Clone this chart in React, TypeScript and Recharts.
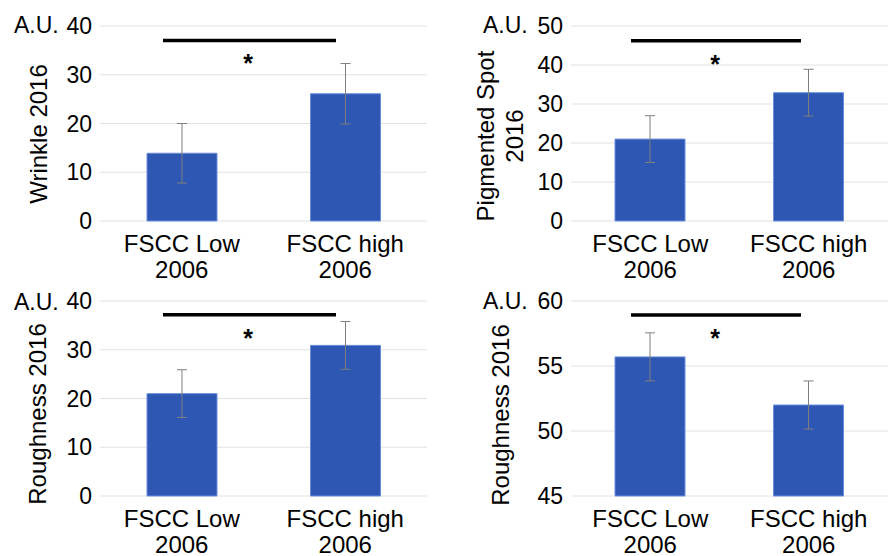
import React from 'react';
import { BarChart, Bar, XAxis, YAxis, CartesianGrid, ErrorBar } from 'recharts';

// two groups, label split into two lines at the last space
const categories = ['FSCC Low 2006', 'FSCC high 2006'];

const wrinkleMean = [13.9, 26.1];
const wrinkleErr = [6.1, 6.2];
const wrinkleTicks = [0, 10, 20, 30, 40];

const pigmentMean = [21.0, 32.9];
const pigmentErr = [6.0, 6.0];
const pigmentTicks = [0, 10, 20, 30, 40, 50];

const roughnessMean = [21.0, 30.9];
const roughnessErr = [4.9, 4.9];
const roughnessTicks = [0, 10, 20, 30, 40];

const roughness2Mean = [55.7, 52.0];
const roughness2Err = [1.85, 1.85];
const roughness2Ticks = [45, 50, 55, 60];

const FONT = '"Liberation Sans", Arial, Helvetica, sans-serif';
const BLUE = '#2E57B4';
const BLUE_EDGE = '#6B8FDD';
const GRID = '#E2E2E2';

function buildRows(means: number[], errs: number[]) {
  return categories.map((name, i) => ({ name, mean: means[i], err: errs[i] }));
}

function CategoryTick({ x, y, payload }: any) {
  const text: string = String(payload.value);
  const cut = text.lastIndexOf(' ');
  return (
    <text x={x} y={y} textAnchor="middle" fontSize={24} fill="#000" fontFamily={FONT}>
      <tspan x={x} dy={31}>{text.slice(0, cut)}</tspan>
      <tspan x={x} dy={25.5}>{text.slice(cut + 1)}</tspan>
    </text>
  );
}

interface PanelProps {
  left: number;
  top: number;
  rows: { name: string; mean: number; err: number }[];
  ticks: number[];
  yWidth: number;
  marginTop: number;
  marginRight: number;
  plotHeight: number;
}

// chart is drawn a bit taller than its 278px cell so the second tick line isn't clipped
function Panel({ left, top, rows, ticks, yWidth, marginTop, marginRight, plotHeight }: PanelProps) {
  const height = 300;
  return (
    <div style={{ position: 'absolute', left, top }}>
      <BarChart
        width={444}
        height={height}
        data={rows}
        margin={{ top: marginTop, right: marginRight, bottom: 0, left: 0 }}
      >
        <CartesianGrid vertical={false} stroke={GRID} strokeWidth={1} />
        <XAxis
          dataKey="name"
          axisLine={false}
          tickLine={false}
          tickSize={0}
          tickMargin={0}
          height={height - marginTop - plotHeight}
          interval={0}
          tick={<CategoryTick />}
        />
        <YAxis
          width={yWidth}
          domain={[ticks[0], ticks[ticks.length - 1]]}
          ticks={ticks}
          axisLine={false}
          tickLine={false}
          tickSize={0}
          tickMargin={8}
          tick={{ fontSize: 23, fill: '#000', fontFamily: FONT }}
        />
        <Bar dataKey="mean" fill={BLUE} stroke={BLUE_EDGE} strokeWidth={1} barSize={70} isAnimationActive={false}>
          <ErrorBar dataKey="err" width={5} stroke="#7F7F7F" strokeWidth={1} direction="y" isAnimationActive={false} />
        </Bar>
      </BarChart>
    </div>
  );
}

function Annotations() {
  const txt = { fontFamily: FONT, fontSize: 23, fill: '#000' } as const;
  return (
    <svg
      width={888}
      height={556}
      style={{ position: 'absolute', left: 0, top: 0, pointerEvents: 'none' }}
    >
      {/* unit labels */}
      <text x={14} y={33} {...txt}>A.U.</text>
      <text x={483} y={33} {...txt}>A.U.</text>
      <text x={14} y={310} {...txt}>A.U.</text>
      <text x={483} y={309} {...txt}>A.U.</text>

      {/* axis titles */}
      <text x={47} y={134} textAnchor="middle" transform="rotate(-90 47 134)" {...txt} fontSize={24}>
        Wrinkle 2016
      </text>
      <text textAnchor="middle" transform="rotate(-90 497 136)" x={497} y={136} {...txt} fontSize={24}>
        <tspan x={497} dy={-3}>Pigmented Spot</tspan>
        <tspan x={497} dy={29}>2016</tspan>
      </text>
      <text x={46} y={414} textAnchor="middle" transform="rotate(-90 46 414)" {...txt} fontSize={24}>
        Roughness 2016
      </text>
      <text x={509} y={415} textAnchor="middle" transform="rotate(-90 509 415)" {...txt} fontSize={24}>
        Roughness 2016
      </text>

      {/* significance brackets */}
      <line x1={163} x2={336} y1={40.5} y2={40.5} stroke="#000" strokeWidth={3.5} />
      <line x1={631} x2={801} y1={40.7} y2={40.7} stroke="#000" strokeWidth={3.5} />
      <line x1={163} x2={336} y1={314.7} y2={314.7} stroke="#000" strokeWidth={3.5} />
      <line x1={631} x2={801} y1={315} y2={315} stroke="#000" strokeWidth={3.5} />
      <text x={248} y={72} textAnchor="middle" {...txt} fontSize={25} fontWeight="bold">*</text>
      <text x={715} y={73} textAnchor="middle" {...txt} fontSize={25} fontWeight="bold">*</text>
      <text x={248} y={347} textAnchor="middle" {...txt} fontSize={25} fontWeight="bold">*</text>
      <text x={715} y={347} textAnchor="middle" {...txt} fontSize={25} fontWeight="bold">*</text>
    </svg>
  );
}

export default function App() {
  return (
    <div
      style={{
        position: 'absolute',
        left: 0,
        top: 0,
        width: 888,
        height: 556,
        background: '#fff',
        fontFamily: FONT,
        overflow: 'hidden',
      }}
    >
      <Panel left={0} top={0} rows={buildRows(wrinkleMean, wrinkleErr)} ticks={wrinkleTicks}
        yWidth={100} marginTop={26} marginRight={17} plotHeight={195} />
      <Panel left={444} top={0} rows={buildRows(pigmentMean, pigmentErr)} ticks={pigmentTicks}
        yWidth={127} marginTop={26} marginRight={0} plotHeight={195} />
      <Panel left={0} top={278} rows={buildRows(roughnessMean, roughnessErr)} ticks={roughnessTicks}
        yWidth={100} marginTop={23} marginRight={17} plotHeight={195} />
      <Panel left={444} top={278} rows={buildRows(roughness2Mean, roughness2Err)} ticks={roughness2Ticks}
        yWidth={127} marginTop={23} marginRight={0} plotHeight={195} />
      <Annotations />
    </div>
  );
}
